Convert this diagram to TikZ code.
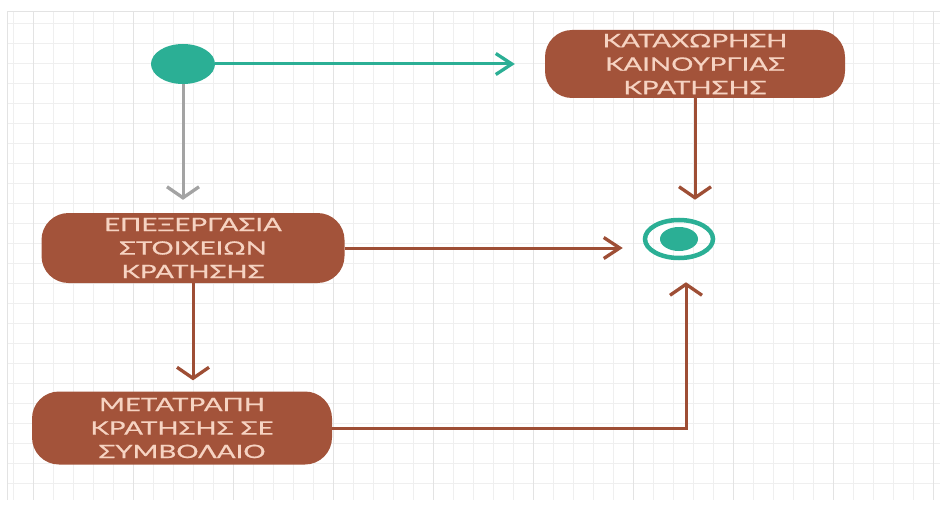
\documentclass[tikz,border=0pt]{standalone}
\usepackage{fontspec}
\newfontfamily\boxfont[FakeStretch=1.5,FakeBold=0.6]{Lato}
\usetikzlibrary{arrows.meta,shapes.geometric}
\definecolor{stateteal}{HTML}{2BAF95}
\definecolor{statebrown}{HTML}{A3533A}
\definecolor{flowbrown}{HTML}{9E4E35}
\definecolor{labeltext}{HTML}{F6D3C2}
\definecolor{flowgray}{HTML}{A3A3A3}
\definecolor{gridminor}{HTML}{EFEFEF}
\definecolor{gridmajor}{HTML}{E3E3E3}
\tikzset{
  activity/.style={draw=none, fill=statebrown, rounded corners=27pt,
    minimum width=300pt, minimum height=70pt, inner sep=0pt,
    align=center, text=labeltext, font=\boxfont\fontsize{18.5}{23.5}\selectfont},
  flowh/.style={line width=3pt, -{Straight Barb[length=16pt,width=21pt,line width=3.3pt]}},
  flowv/.style={line width=3pt, -{Straight Barb[length=11pt,width=32pt,line width=3.3pt]}},
}
\begin{document}
\begin{tikzpicture}[x=1pt,y=-1pt]
\useasboundingbox (0,0) rectangle (947,505);
\fill[white] (0,0) rectangle (947,505);
% background grid
\foreach \gx in {13,33,...,933} {\draw[gridminor, line width=0.8pt] (\gx,12) -- (\gx,500);}
\foreach \gy in {23,43,...,493} {\draw[gridminor, line width=0.8pt] (7,\gy) -- (940,\gy);}
\foreach \gx in {33,133,...,933} {\draw[gridmajor, line width=1pt] (\gx,12) -- (\gx,500);}
\draw[gridmajor, line width=1pt] (7,12) -- (940,12);
\draw[gridmajor, line width=1pt] (7,12) -- (7,500);

% initial and final states
\node[ellipse, fill=stateteal, minimum width=64pt, minimum height=40pt, inner sep=0pt] (init) at (183,64) {};
\node[ellipse, draw=stateteal, line width=4.5pt, minimum width=68pt, minimum height=38pt, inner sep=0pt] (final) at (679,239) {};
\node[ellipse, fill=stateteal, minimum width=38pt, minimum height=24pt, inner sep=0pt] (finaldot) at (final.center) {};

% activities
\node[activity, minimum height=68pt] (register) at (695,64) {ΚΑΤΑΧΩΡΗΣΗ\\ΚΑΙΝΟΥΡΓΙΑΣ\\ΚΡΑΤΗΣΗΣ};
\node[activity, minimum width=303pt] (edit) at (193,248) {ΕΠΕΞΕΡΓΑΣΙΑ\\ΣΤΟΙΧΕΙΩΝ\\ΚΡΑΤΗΣΗΣ};
\node[activity, minimum height=73pt] (convert) at (182,428) {ΜΕΤΑΤΡΑΠΗ\\ΚΡΑΤΗΣΗΣ ΣΕ\\ΣΥΜΒΟΛΑΙΟ};

\coordinate (convin) at ([xshift=7pt]final.south);

% transitions
\draw[flowh, stateteal, shorten >=30pt] (init.east) -- (init.east -| register.west);
\draw[flowv, flowgray, shorten >=13pt] (init.south) -- (init.south |- edit.north);
\draw[flowv, flowbrown, shorten >=18pt] (register.south) -- (register.south |- final.north);
\draw[flowh, flowbrown, shorten >=20pt] (edit.east) -- (edit.east -| final.west);
\draw[flowv, flowbrown, shorten >=11pt] (edit.south) -- (edit.south |- convert.north);
\draw[flowv, flowbrown, shorten >=22pt] (convert.east) -| (convin);
\end{tikzpicture}
\end{document}
